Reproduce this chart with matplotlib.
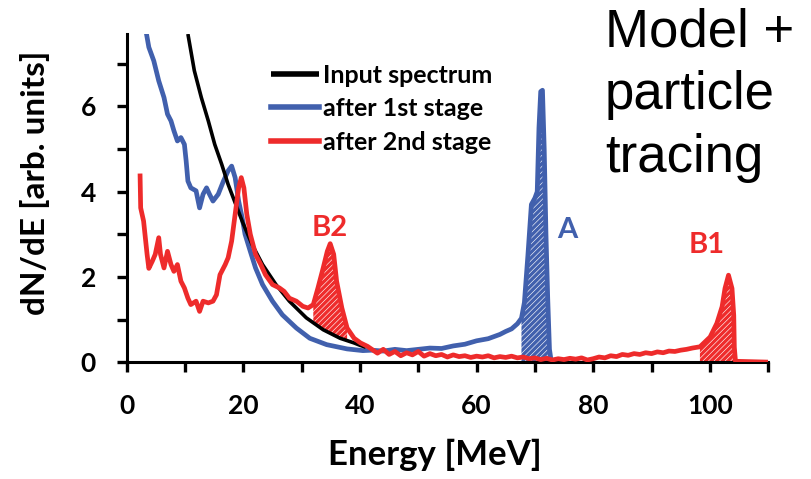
import matplotlib
matplotlib.use("Agg")
import matplotlib.pyplot as plt
import numpy as np

plt.rcParams['font.family'] = ['Lato', 'DejaVu Sans']
plt.rcParams['hatch.linewidth'] = 2.4

# Input spectrum (smooth, falling)
input_E = [10.5, 11.6, 12.8, 14.0, 15.1, 16.3, 17.4, 18.6, 19.8, 21.5, 23.3,
           25.6, 27.9, 30.8, 33.7, 36.6, 39.0, 40.1, 41.0]
input_dN = [7.70, 6.84, 6.21, 5.66, 5.11, 4.64, 4.17, 3.74, 3.31, 2.76, 2.29,
            1.82, 1.43, 1.04, 0.76, 0.56, 0.45, 0.39, 0.35]

# Spectrum after the 1st stage
stage1_E = [3.4, 3.8, 4.65, 5.5, 6.4, 7.0, 7.6, 8.1, 8.7, 9.3, 9.9, 10.2, 10.5,
            11.0, 11.9, 12.5, 13.1, 13.7, 14.2, 14.8, 15.7, 16.6, 17.4, 18.0,
            18.6, 19.2, 19.8, 20.3, 21.2, 22.1, 23.3, 25.0, 26.7, 29.1, 31.4,
            34.3, 37.8, 40.5, 42, 44, 46, 48, 50, 52, 54, 56, 58, 60, 62, 64,
            65, 66, 67, 67.7, 68.2, 68.8, 69.4, 70.0, 70.4, 70.7, 71.0, 71.3,
            71.6, 71.9, 72.2, 72.5, 72.8, 75.0]
stage1_dN = [7.70, 7.39, 7.07, 6.60, 6.21, 5.82, 5.66, 5.43, 5.19, 5.27, 5.11,
             4.72, 4.25, 4.09, 4.02, 3.62, 3.94, 4.09, 3.94, 3.78, 3.94, 4.25,
             4.49, 4.60, 4.33, 3.78, 3.39, 3.00, 2.60, 2.21, 1.82, 1.43, 1.11,
             0.80, 0.56, 0.41, 0.31, 0.27, 0.28, 0.26, 0.30, 0.27, 0.30, 0.33,
             0.32, 0.38, 0.42, 0.50, 0.55, 0.65, 0.72, 0.78, 0.90, 1.03, 1.40,
             2.50, 3.70, 3.85, 4.00, 5.50, 6.35, 6.38, 5.00, 3.00, 1.50, 0.30,
             0.02, 0.00]

# Spectrum after the 2nd stage
stage2_E = [2.3, 2.4, 2.9, 3.5, 3.8, 4.4, 4.9, 5.5, 5.8, 6.4, 7.0, 7.6, 8.1,
            8.7, 9.3, 9.9, 10.5, 11.0, 11.9, 12.5, 13.1, 14.0, 14.8, 15.4, 16.0,
            16.9, 17.4, 18.0, 18.6, 19.2, 19.65, 20.1, 20.6, 21.2, 22.1, 23.0,
            23.8, 25.0, 26.2, 27.0, 27.9, 29.1, 30.2, 31.1, 32.0, 32.8, 33.7,
            34.4, 34.9, 35.5, 36.0, 36.9, 37.8, 39.0, 40.1, 41.3, 43, 44, 45,
            46, 47, 48, 49, 50, 51, 52, 53, 54, 55, 56, 57, 58, 59, 60, 61, 62,
            63, 64, 65, 66, 67, 68, 69, 70, 71, 72, 73, 74, 75, 76, 77, 78, 79,
            80, 81, 82, 83, 84, 85, 86, 87, 88, 89, 90, 91, 92, 93, 94, 95, 96,
            97, 98.3, 100.05, 101.2, 102.1, 102.6, 103.2, 103.8, 104.1, 104.2,
            104.4, 110]
stage2_dN = [4.37, 3.62, 3.31, 2.53, 2.20, 2.37, 2.53, 2.92, 2.53, 2.21, 2.60,
             2.29, 2.13, 2.29, 1.90, 1.74, 1.50, 1.35, 1.43, 1.19, 1.43, 1.39,
             1.43, 1.58, 2.05, 2.29, 2.45, 2.84, 3.47, 4.09, 4.33, 4.09, 3.47,
             3.00, 2.53, 2.29, 2.05, 1.82, 1.74, 1.66, 1.50, 1.43, 1.31, 1.27,
             1.35, 1.74, 2.21, 2.60, 2.78, 2.53, 1.90, 1.27, 0.80, 0.56, 0.45,
             0.37, 0.21, 0.30, 0.18, 0.25, 0.15, 0.22, 0.17, 0.25, 0.14, 0.20,
             0.15, 0.18, 0.12, 0.17, 0.13, 0.15, 0.11, 0.14, 0.12, 0.15, 0.10,
             0.13, 0.11, 0.14, 0.10, 0.12, 0.08, 0.10, 0.06, 0.09, 0.05, 0.08,
             0.06, 0.09, 0.07, 0.10, 0.05, 0.08, 0.12, 0.10, 0.15, 0.13, 0.18,
             0.16, 0.20, 0.18, 0.22, 0.20, 0.24, 0.22, 0.26, 0.25, 0.28, 0.30,
             0.33, 0.36, 0.59, 0.91, 1.30, 1.73, 2.04, 1.73, 1.10, 0.35, 0.02,
             0.00]

# Energy windows of the hatched peaks
peak_A = (67.7, 72.8)
peak_B2 = (32.0, 37.8)
peak_B1 = (98.3, 104.4)

BLUE = '#4160ad'
RED = '#ee2b2b'

fig = plt.figure(figsize=(8.12, 4.79), dpi=100)
ax = fig.add_axes([0.156, 0.244, 0.790, 0.685])

ax.plot(input_E, input_dN, color='black', lw=2.6, label='Input spectrum',
        zorder=3, solid_capstyle='butt')
ax.plot(stage1_E, stage1_dN, color=BLUE, lw=3.4, label='after 1st stage',
        zorder=2)
ax.plot(stage2_E, stage2_dN, color=RED, lw=3.4, label='after 2nd stage',
        zorder=4)


def hatch_peak(E, dN, window, color, pattern, floor=None):
    """Hatch the peak area between the curve and a floor (zero or the
    underlying input spectrum)."""
    E = np.asarray(E, float)
    dN = np.asarray(dN, float)
    m = (E >= window[0]) & (E <= window[1])
    if floor is None:
        lower = np.zeros(m.sum())
    else:
        lower = np.interp(E[m], floor[0], floor[1])
    ax.fill_between(E[m], lower, dN[m], facecolor='none', edgecolor=color,
                    hatch=pattern, linewidth=0, zorder=1)


hatch_peak(stage1_E, stage1_dN, peak_A, BLUE, '//////')
hatch_peak(stage2_E, stage2_dN, peak_B2, RED, '//////',
           floor=(input_E, input_dN))
hatch_peak(stage2_E, stage2_dN, peak_B1, RED, '//////')

ax.text(34.9, 3.15, 'B2', color=RED, fontsize=21, fontweight='bold',
        ha='center', va='center')
ax.text(75.6, 3.1, 'A', color=BLUE, fontsize=21, fontweight='bold',
        ha='center', va='center')
ax.text(99.4, 2.75, 'B1', color=RED, fontsize=21, fontweight='bold',
        ha='center', va='center')

ax.set_xlim(0, 110)
ax.set_ylim(0, 7.7)
ax.set_xticks(np.arange(0, 111, 20))
ax.set_xticks(np.arange(0, 111, 10), minor=True)
ax.set_yticks([0, 2, 4, 6])
ax.set_yticks([1, 3, 5, 7], minor=True)

for s in ['top', 'right']:
    ax.spines[s].set_visible(False)
for s in ['left', 'bottom']:
    ax.spines[s].set_linewidth(2.2)

ax.tick_params(which='both', direction='out', width=2.4, length=7,
               labelsize=19)
for lab in ax.get_xticklabels() + ax.get_yticklabels():
    lab.set_fontweight('bold')
ax.tick_params(axis='x', pad=16)
ax.tick_params(axis='y', pad=15)

ax.set_xlabel('Energy [MeV]', fontsize=25, fontweight='bold')
ax.set_ylabel('dN/dE [arb. units]', fontsize=24, fontweight='bold')
ax.xaxis.set_label_coords(0.481, -0.235)
ax.yaxis.set_label_coords(-0.12, 0.545)

leg = ax.legend(loc='upper left', bbox_to_anchor=(0.21, 0.94), frameon=False,
                prop={'weight': 'bold', 'size': 18}, handlelength=1.9,
                handletextpad=0.15, labelspacing=0.42, borderaxespad=0)
for line in leg.get_lines():
    line.set_linewidth(4)

fig.text(0.745, 0.985, 'Model +\nparticle\ntracing', fontsize=38,
         family=['Liberation Sans', 'DejaVu Sans'], ha='left', va='top',
         linespacing=1.33)

fig.savefig('out.png', dpi=100)
